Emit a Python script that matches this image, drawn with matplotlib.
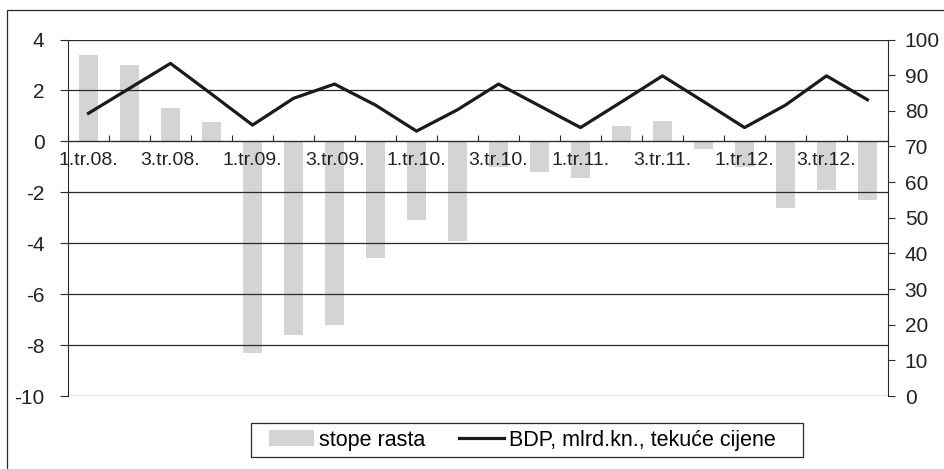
import numpy as np
import matplotlib.pyplot as plt
from matplotlib.patches import Rectangle

plt.rcParams['font.family'] = ['Liberation Sans', 'DejaVu Sans']
plt.rcParams['axes.unicode_minus'] = False

# Podaci
kvartali = ["1.tr.08.", "2.tr.08.", "3.tr.08.", "4.tr.08.",
            "1.tr.09.", "2.tr.09.", "3.tr.09.", "4.tr.09.",
            "1.tr.10.", "2.tr.10.", "3.tr.10.", "4.tr.10.",
            "1.tr.11.", "2.tr.11.", "3.tr.11.", "4.tr.11.",
            "1.tr.12.", "2.tr.12.", "3.tr.12.", "4.tr.12."]
stope_rasta = [3.4, 3.0, 1.3, 0.75,
               -8.3, -7.6, -7.2, -4.6,
               -3.1, -3.9, -1.0, -1.2,
               -1.45, 0.6, 0.8, -0.3,
               -1.0, -2.6, -1.9, -2.3]
bdp = [79.3, 86.3, 93.3, 84.7,
       76.0, 83.5, 87.5, 81.6,
       74.3, 80.3, 87.5, 81.4,
       75.3, 82.5, 89.8, 82.6,
       75.3, 81.6, 89.8, 83.1]

x = np.arange(len(kvartali))

fig = plt.figure(figsize=(9.45, 4.69), dpi=100)
ax = fig.add_axes([68 / 945, 1 - 396 / 469, 820 / 945, 356.5 / 469])

# Stupci - stope rasta
ax.bar(x, stope_rasta, width=0.46, color="#d3d4d6", label="stope rasta", zorder=1)
ax.set_xlim(-0.5, len(x) - 0.5)
ax.set_ylim(-10, 4)
ax.set_yticks(np.arange(-10, 5, 2))
ax.set_axisbelow(False)
ax.grid(axis="y", color="#2a2a2a", linewidth=0.9)

# os x na nuli
ax.spines["bottom"].set_position(("data", 0))
ax.spines["bottom"].set_color("#2a2a2a")
ax.spines["top"].set_visible(False)
ax.spines["right"].set_visible(False)
ax.spines["left"].set_color("#2a2a2a")
ax.set_xticks(np.arange(-0.5, len(x), 1.0))
ax.set_xticklabels([])
ax.tick_params(axis="x", which="major", direction="in", length=4, color="#2a2a2a")
ax.set_xticks(x[::2], minor=True)
ax.set_xticklabels(kvartali[::2], minor=True)
ax.tick_params(axis="x", which="minor", length=0, pad=8, labelsize=14, labelcolor="#222222")
ax.tick_params(axis="y", length=6, pad=11, labelsize=15, labelcolor="#222222", color="#2a2a2a")

# Linija - BDP
ax2 = ax.twinx()
ax2.plot(x, bdp, color="#1a1a1a", linewidth=2.3, label="BDP, mlrd.kn., tekuće cijene")
ax2.set_ylim(0, 100)
ax2.set_yticks(np.arange(0, 101, 10))
for s in ["top", "left", "bottom"]:
    ax2.spines[s].set_visible(False)
ax2.spines["right"].set_color("#2a2a2a")
ax2.tick_params(axis="y", length=5, pad=7, labelsize=15, labelcolor="#222222", color="#2a2a2a")

# Legenda (okvir posebno)
h1, l1 = ax.get_legend_handles_labels()
h2, l2 = ax2.get_legend_handles_labels()
leg = fig.legend(h1 + h2, l1 + l2, loc="center left", bbox_to_anchor=(269 / 945, 1 - 440 / 469),
                 ncol=2, fontsize=15.5, frameon=False, handlelength=2.1, handleheight=0.75,
                 handletextpad=0.2, columnspacing=1.6, borderpad=0, borderaxespad=0)
fig.add_artist(Rectangle((251 / 945, 1 - 457 / 469), 552 / 945, 34 / 469, transform=fig.transFigure,
                         fill=False, edgecolor="#2a2a2a", linewidth=0.9))

# okvir oko slike
fig.add_artist(Rectangle((7.5 / 945, -0.2), 1.2, 1.2 - 10.5 / 469, transform=fig.transFigure,
                         fill=False, edgecolor="#2a2a2a", linewidth=0.9))

fig.savefig("out.png", dpi=100)
